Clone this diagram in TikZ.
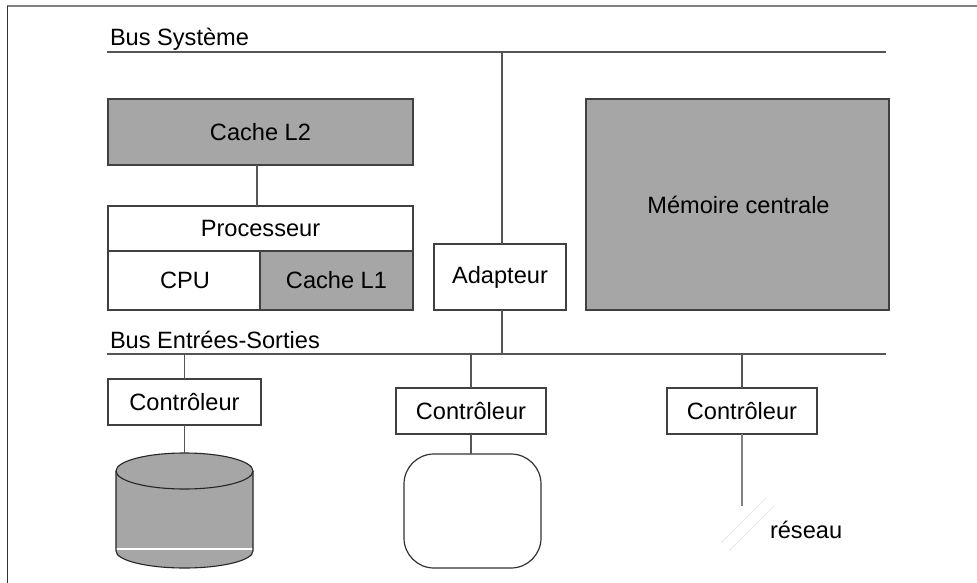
\documentclass[tikz,border=0pt]{standalone}
\usepackage{fontspec}
\setmainfont{Liberation Sans}
\definecolor{boxgrey}{HTML}{A6A6A6}
\definecolor{wiregrey}{HTML}{555555}
\tikzset{
  x=1pt,y=-1pt,
  every node/.style={font=\fontsize{23.6}{28}\selectfont,text=black,inner sep=0pt,outer sep=0pt},
  wire/.style={draw=wiregrey,line width=1.2pt},
  plainbox/.style={rectangle,draw=black!75,line width=1.2pt,fill=white},
  greybox/.style={rectangle,draw=black!75,line width=1.6pt,fill=boxgrey},
  buslabel/.style={anchor=base west},
  faint/.style={draw=black!12,line width=0.5pt},
  diskline/.style={draw=black!85,line width=1.1pt}
}
\newcommand{\boxnode}[7]{\node[#1,minimum width=#5-#3,minimum height=#6-#4] (#2) at ({(#3+#5)/2},{(#4+#6)/2}) {#7};}
\begin{document}
\begin{tikzpicture}
\useasboundingbox (0,0) rectangle (977,583);
\fill[white] (0,0) rectangle (977,583);
% frame
\draw[draw=black!50,line width=2pt] (7,6) -- (977,6);
\draw[draw=black!80,line width=1pt] (7,6) -- (7,583);
% buses
\coordinate (sysL) at (107,52);
\coordinate (sysR) at (886,52);
\coordinate (ioL) at (107,354);
\coordinate (ioR) at (886,354);
\draw[wire] (sysL) -- (sysR);
\draw[wire] (ioL) -- (ioR);
\node[buslabel] (lsys) at (110,46) {Bus Système};
\node[buslabel] (lio) at (110,348) {Bus Entrées-Sorties};
% boxes
\boxnode{greybox}{l2}{108}{99}{413}{165}{Cache L2}
\boxnode{plainbox}{proc}{108}{206}{413}{251}{Processeur}
\boxnode{plainbox}{cpu}{108}{251}{260}{310}{\hspace{2pt}CPU}
\boxnode{greybox}{l1}{260}{251}{413}{310}{Cache L1}
\boxnode{plainbox}{adapt}{434}{244}{566}{310}{Adapteur}
\boxnode{greybox}{mem}{586}{99}{889}{310}{\hspace{2pt}Mémoire centrale}
\boxnode{plainbox}{c1}{108}{379}{261}{425}{Contrôleur}
\boxnode{plainbox}{c2}{396}{388}{546}{434}{Contrôleur}
\boxnode{plainbox}{c3}{667}{388}{817}{434}{Contrôleur}
\node[rectangle,rounded corners=30pt,draw=black!80,line width=1.2pt,fill=white,minimum width=137,minimum height=114] (term) at (472.5,511) {};
% disk
\coordinate (disk) at (184.5,453);
\path[fill=boxgrey] (116,471) -- (116,551) arc[start angle=180,end angle=0,x radius=68.5,y radius=17] -- (253,471) arc[start angle=0,end angle=-180,x radius=68.5,y radius=18] -- cycle;
\draw[draw=white,line width=1.1pt] (116,549) -- (253,549);
\draw[diskline] (116,471) -- (116,551) arc[start angle=180,end angle=0,x radius=68.5,y radius=17] -- (253,471);
\draw[diskline] (184.5,471) ellipse[x radius=68.5,y radius=18];
% connectors
\draw[wire] ([xshift=-3.5]l2.south) -- ([xshift=-3.5]proc.north);
\draw[wire] (adapt.north -| 502,0) -- (502,52);
\draw[wire] (adapt.south -| 502,0) -- (502,354);
\draw[wire] (c1.north) -- (c1.north |- ioL);
\draw[wire] (c2.north) -- (c2.north |- ioL);
\draw[wire] (c3.north) -- (c3.north |- ioL);
\draw[wire] (c1.south) -- (disk);
\draw[wire] (c2.south) -- (term.north -| c2.south);
\coordinate (netend) at (742,506);
\draw[draw=black!50,line width=1.3pt] (c3.south) -- (netend);
% network break
\draw[faint] (766,498) -- (721,543);
\draw[faint] (774,506) -- (729,551);
\node[buslabel] (net) at (770,538) {réseau};
\end{tikzpicture}
\end{document}
